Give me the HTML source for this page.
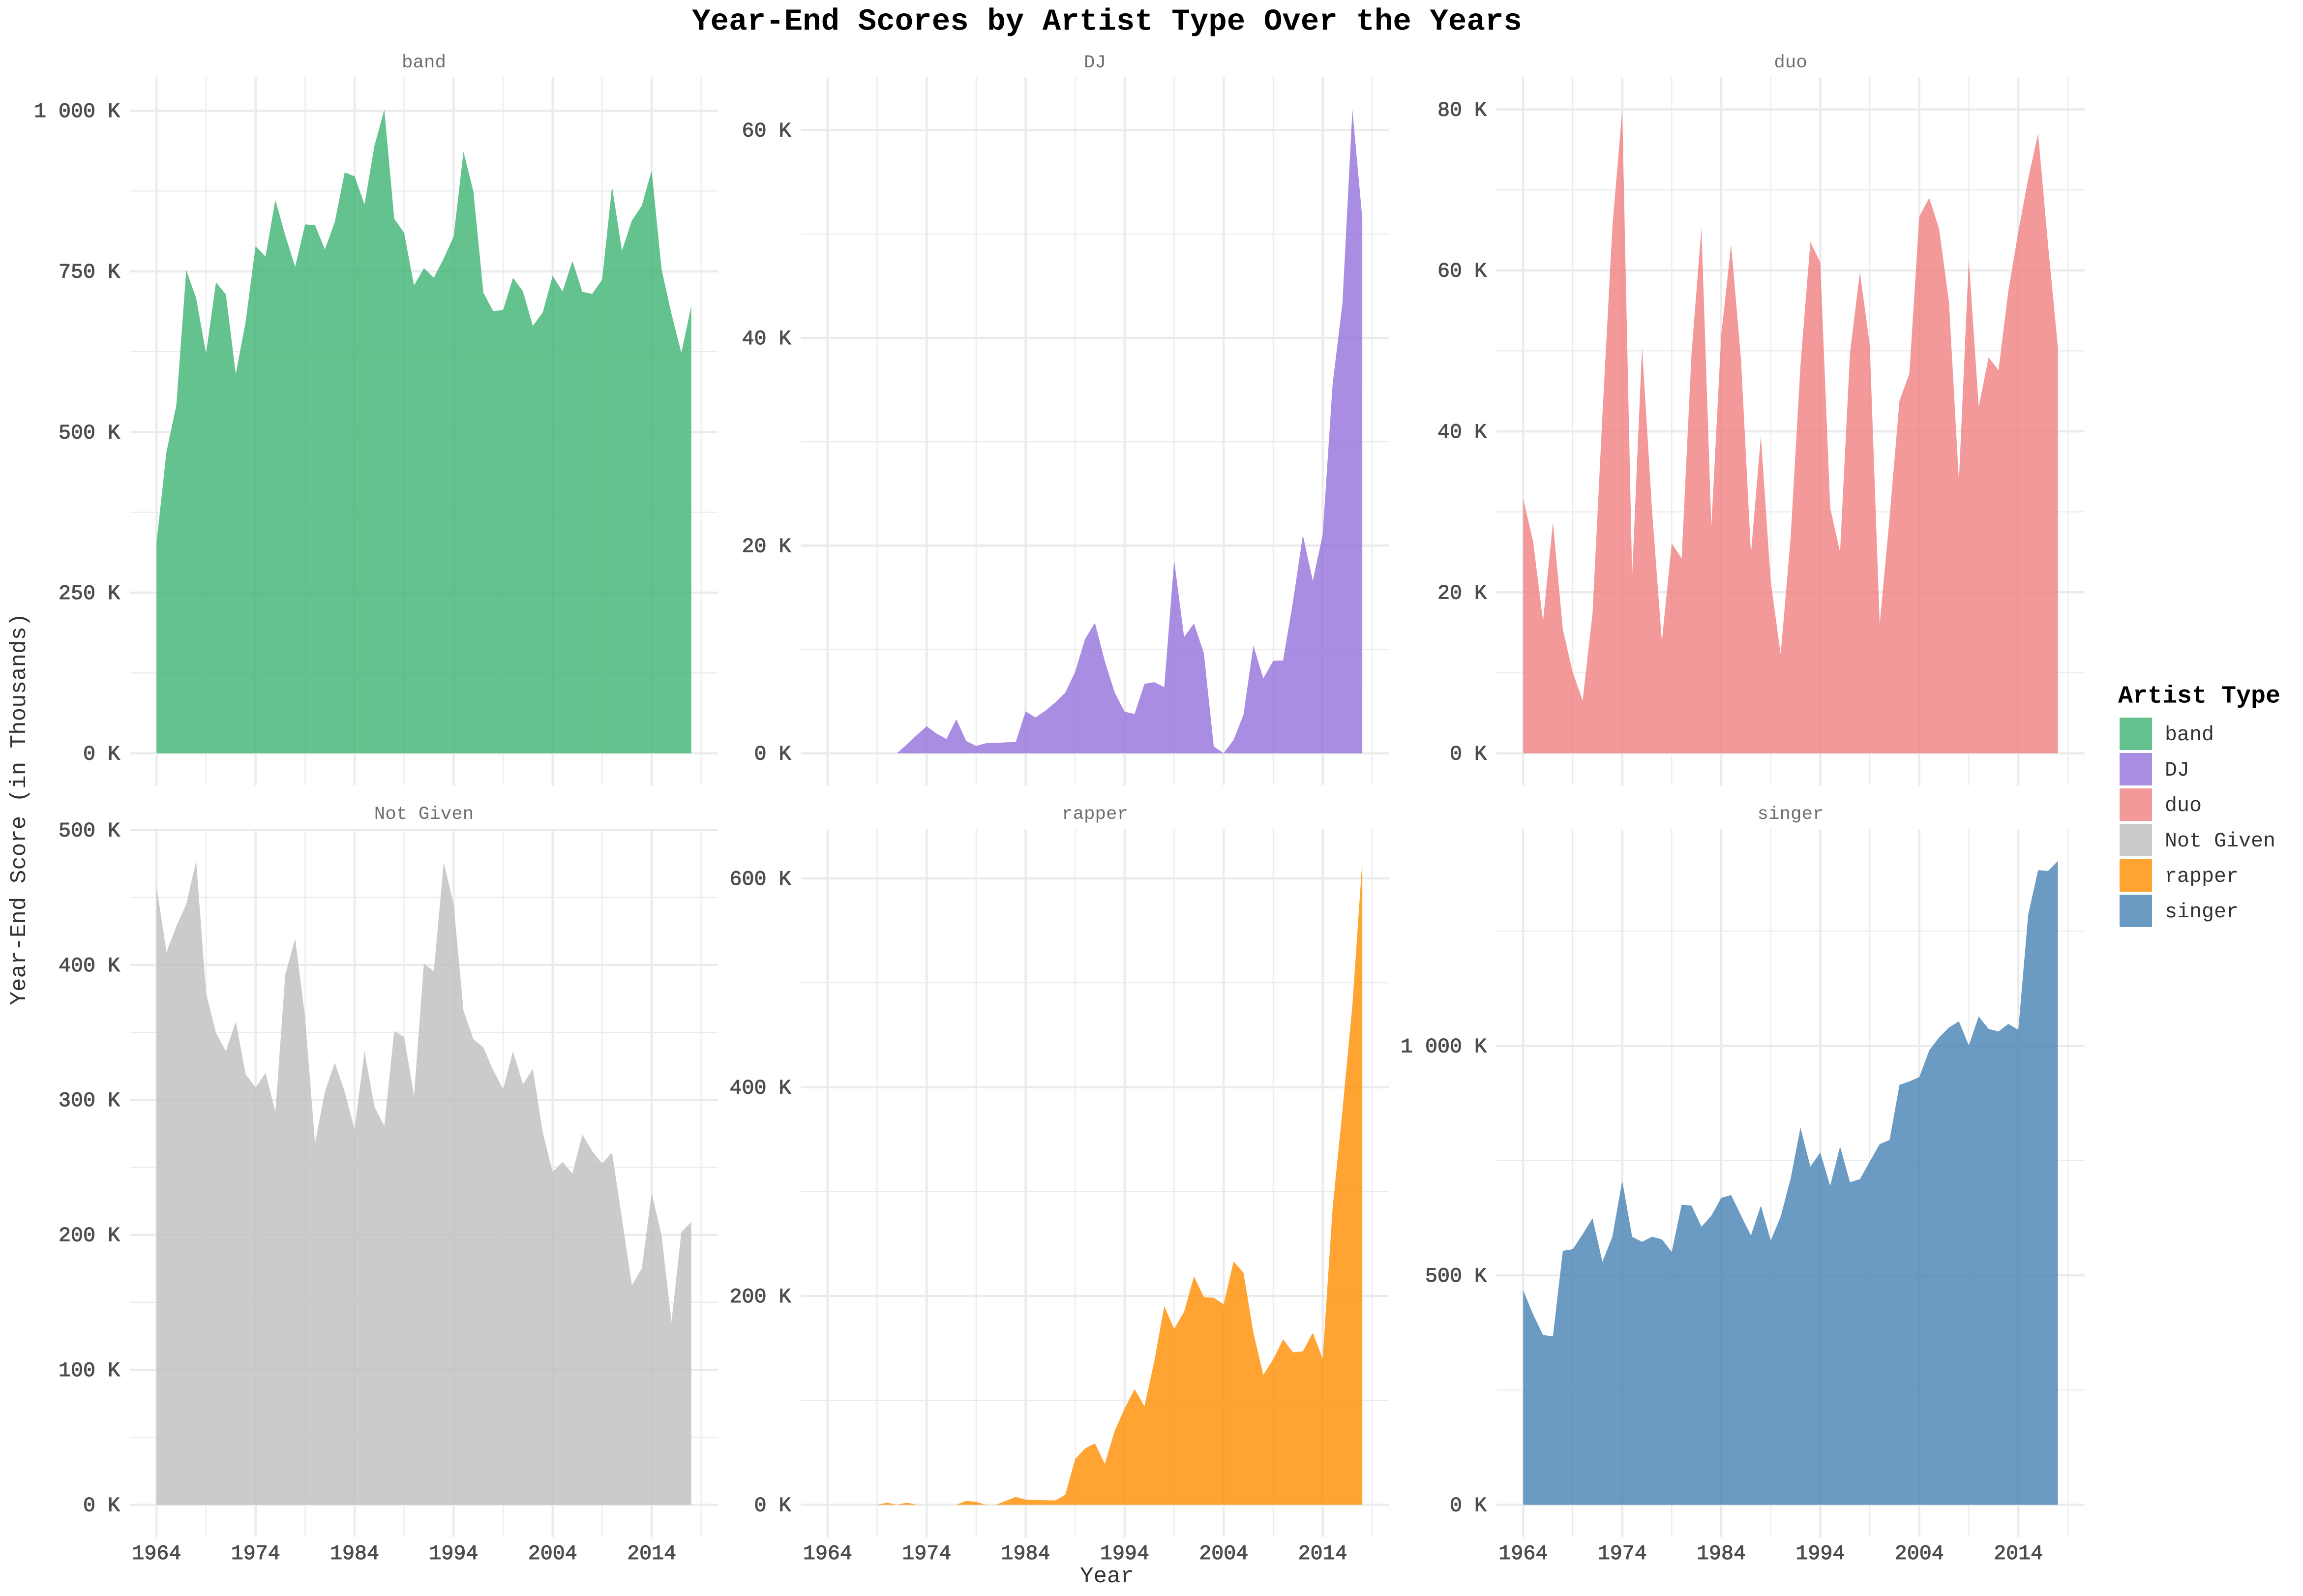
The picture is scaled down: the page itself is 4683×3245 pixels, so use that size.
<!DOCTYPE html>
<html lang="en">
<head>
<meta charset="utf-8">
<title>Year-End Scores by Artist Type Over the Years</title>
<style>
  html, body { margin: 0; padding: 0; background: #ffffff; }
  #chart { display: block; width: 4683px; height: 3245px; }
  text { font-family: "Liberation Mono", "Courier New", monospace; }
</style>
</head>
<body>
<svg id="chart" xmlns="http://www.w3.org/2000/svg" width="4683" height="3245" viewBox="0 0 4683 3245">
  <rect x="0" y="0" width="4683" height="3245" fill="#ffffff"></rect>
  <text x="2251" y="44" font-size="62.5" font-weight="700" fill="#000000" text-anchor="middle" dominant-baseline="central">Year-End Scores by Artist Type Over the Years</text>
  <text x="2251" y="3205" font-size="45.8" fill="#333333" text-anchor="middle" dominant-baseline="central">Year</text>
  <text x="0" y="0" transform="translate(39 1645) rotate(-90)" font-size="45.8" fill="#333333" text-anchor="middle" dominant-baseline="central">Year-End Score (in Thousands)</text>
  <g id="panels"></g>
  <g id="legend">
    <text x="4307" y="1416" font-size="50" font-weight="700" fill="#000000" dominant-baseline="central">Artist Type</text>
  </g>
</svg>
<script>
// ---- data (scores in thousands) ----
const years = [1964,1965,1966,1967,1968,1969,1970,1971,1972,1973,1974,1975,1976,1977,1978,1979,1980,1981,1982,1983,1984,1985,1986,1987,1988,1989,1990,1991,1992,1993,1994,1995,1996,1997,1998,1999,2000,2001,2002,2003,2004,2005,2006,2007,2008,2009,2010,2011,2012,2013,2014,2015,2016,2017,2018];

const bandScores = [328,469,542,752,708,622,733,714,590,672,789,773,861,806,757,823,822,784,827,904,898,854,945,1002,832,810,728,755,740,770,804,936,874,717,688,690,740,719,665,686,743,719,766,718,715,737,882,782,829,852,907,753,684,623,696];
const djScores = [null,null,null,null,null,null,null,0,0.85,1.75,2.6,1.9,1.37,3.28,1.18,0.7,0.97,1.0,1.05,1.08,4.04,3.45,4.1,4.9,5.83,7.84,11.0,12.56,8.86,5.83,4.0,3.78,6.68,6.85,6.36,18.6,11.2,12.5,9.64,0.65,0.02,1.29,3.72,10.38,7.2,8.9,8.94,14.6,21.0,16.6,21.05,35.5,43.4,62,51.5];
const duoScores = [31.6,26.3,16.4,28.7,15.4,10.05,6.55,17.4,42,65.3,80,22,50.5,30.4,13.9,26.1,24.2,49.7,65.3,28.1,52,63.2,48.8,24.8,39.4,21.3,12.3,26.7,48.2,63.5,61,30.5,25,49.7,59.8,50.7,16,29.3,43.8,47.2,66.7,69,65.2,56,33.8,61.4,43,49.2,47.6,57.5,64.8,71.4,77,63.2,50.4];
const notGivenScores = [458,409.5,428.6,445,477,379,349.6,336,358,319,309,320,291,393,419.5,361,268,306,327.5,306,278,336,295,280.5,351,346.6,303,401,395.4,476,445,366,345,339,322,308,336,311.5,323,276,246.6,254,245.4,274.4,262,253,261,212,162.6,175,231,199.6,135.5,202,209.5];
const rapperScores = [null,null,null,null,null,0,2,0,2,0,0,0,0,0,3.8,2.8,0,0,3.8,7.5,4.9,4.6,4.4,4.2,9.6,43.8,54,58.8,39.2,71,92.3,110.8,94.3,137.8,190.3,168.5,184.7,218.8,198.9,198.3,192,233,222.4,164.8,124.4,139.2,158.5,146,147,164.8,139.8,284,378,478.5,616.7];
const singerScores = [467,415,370,367,553.5,557,589.5,624.5,529.5,584,706,584,573,584,578.6,551,654,652,606,630,669,675,630,587,652,576,628,710,822,737,767.5,695,780.6,703,709.6,748,786,795,915,922.5,932,990,1018.5,1040,1053.5,1001,1064,1037,1031.6,1048,1035,1286,1383,1381,1403];

// ---- axis tick values and labels ----
const xMajorYears = [1964,1974,1984,1994,2004,2014];
const xMinorYears = [1969,1979,1989,1999,2009,2019];
const bandTicks = [0,250,500,750,1000];
const djTicks = [0,20,40,60];
const duoTicks = [0,20,40,60,80];
const notGivenTicks = [0,100,200,300,400,500];
const rapperTicks = [0,200,400,600];
const singerTicks = [0,500,1000];

const artistNames = ['band','DJ','duo','Not Given','rapper','singer'];
const artistColors = ['#3CB371','#9370DB','#F08080','#BEBEBE','#FF8C00','#4682B4'];
const allScores = [bandScores,djScores,duoScores,notGivenScores,rapperScores,singerScores];
const allTicks = [bandTicks,djTicks,duoTicks,notGivenTicks,rapperTicks,singerTicks];

// ---- layout ----
const SVG_NS = 'http://www.w3.org/2000/svg';
const panelWidth = 1196;
const panelHeight = 1440;
const columnLefts = [264, 1628.5, 3043];
const rowTops = [157, 1685];
const xMin = Math.min(...years);
const xMax = Math.max(...years);
const expand = 0.05;
const fillAlpha = 0.8;

function slug(s) { return s.toLowerCase().replace(/\s+/g, '-'); }

function makeEl(tag, attrs, parent) {
  const el = document.createElementNS(SVG_NS, tag);
  for (const k in attrs) el.setAttribute(k, attrs[k]);
  parent.appendChild(el);
  return el;
}

function makeXScale(left) {
  const span = xMax - xMin;
  const lo = xMin - span * expand;
  const hi = xMax + span * expand;
  return v => left + (v - lo) / (hi - lo) * panelWidth;
}

function makeYScale(top, values) {
  const max = Math.max(...values.filter(v => v !== null));
  const lo = -max * expand;
  const hi = max * (1 + expand);
  return v => top + panelHeight - (v - lo) / (hi - lo) * panelHeight;
}

function tickLabel(v) {
  const s = String(v);
  const grouped = s.replace(/\B(?=(\d{3})+(?!\d))/g, ' ');
  return grouped + ' K';
}

function drawPanel(index) {
  const name = artistNames[index];
  const values = allScores[index];
  const ticks = allTicks[index];
  const left = columnLefts[index % 3];
  const row = Math.floor(index / 3);
  const top = rowTops[row];
  const right = left + panelWidth;
  const bottom = top + panelHeight;
  const x = makeXScale(left);
  const y = makeYScale(top, values);
  const key = slug(name);
  const parent = document.getElementById('panels');

  const g = makeEl('g', {}, parent);
  
  

  // minor horizontal gridlines halfway between major ticks
  const step = ticks[1] - ticks[0];
  const maxVal = Math.max(...values.filter(v => v !== null));
  const limit = maxVal * (1 + expand);
  for (let m = ticks[0] + step / 2; m <= limit; m += step) {
    const line = makeEl('line', { x1: left, x2: right, y1: y(m), y2: y(m), stroke: '#ebebeb', 'stroke-width': 2.22 }, g);
    
    
  }
  xMinorYears.forEach(yr => {
    const line = makeEl('line', { x1: x(yr), x2: x(yr), y1: top, y2: bottom, stroke: '#ebebeb', 'stroke-width': 2.22 }, g);
    
    
  });
  ticks.forEach(t => {
    const line = makeEl('line', { x1: left, x2: right, y1: y(t), y2: y(t), stroke: '#ebebeb', 'stroke-width': 4.44 }, g);
    
    
  });
  xMajorYears.forEach(yr => {
    const line = makeEl('line', { x1: x(yr), x2: x(yr), y1: top, y2: bottom, stroke: '#ebebeb', 'stroke-width': 4.44 }, g);
    
    
  });

  // area mark
  const pts = [];
  years.forEach((yr, i) => { if (values[i] !== null) pts.push([x(yr), y(values[i])]); });
  const base = y(0);
  const d = 'M' + pts[0][0] + ' ' + base + ' ' +
    pts.map(p => 'L' + p[0].toFixed(2) + ' ' + p[1].toFixed(2)).join(' ') +
    ' L' + pts[pts.length - 1][0] + ' ' + base + ' Z';
  const area = makeEl('path', { d: d, fill: artistColors[index], 'fill-opacity': fillAlpha }, g);
  
  

  // strip label
  const strip = makeEl('text', { x: left + panelWidth / 2, y: top - 29, 'font-size': 37.5, fill: '#6e6e6e', 'text-anchor': 'middle', 'dominant-baseline': 'central' }, g);
  strip.textContent = name;
  
  

  // y tick labels
  ticks.forEach(t => {
    const label = makeEl('text', { x: left - 20, y: y(t) + 2, 'font-size': 41.67, fill: '#4d4d4d', stroke: '#4d4d4d', 'stroke-width': 1.1, 'text-anchor': 'end', 'dominant-baseline': 'central' }, g);
    label.textContent = tickLabel(t);
    
    
  });

  // x tick labels only on the bottom row
  if (row === 1) {
    xMajorYears.forEach(yr => {
      const label = makeEl('text', { x: x(yr), y: bottom + 34, 'font-size': 41.67, fill: '#4d4d4d', stroke: '#4d4d4d', 'stroke-width': 1.1, 'text-anchor': 'middle', 'dominant-baseline': 'central' }, g);
      label.textContent = String(yr);
      
      
    });
  }
}

function drawLegend() {
  const parent = document.getElementById('legend');
  artistNames.forEach((name, i) => {
    const key = slug(name);
    const top = 1459 + i * 72;
    const g = makeEl('g', {}, parent);
    
    
    const swatch = makeEl('rect', { x: 4310, y: top, width: 66, height: 66, fill: artistColors[i], 'fill-opacity': fillAlpha }, g);
    
    
    const label = makeEl('text', { x: 4402, y: top + 35, 'font-size': 41.67, fill: '#333333', 'dominant-baseline': 'central' }, g);
    label.textContent = name;
    
    
  });
}

artistNames.forEach((_, i) => drawPanel(i));
drawLegend();
</script>
</body>
</html>
